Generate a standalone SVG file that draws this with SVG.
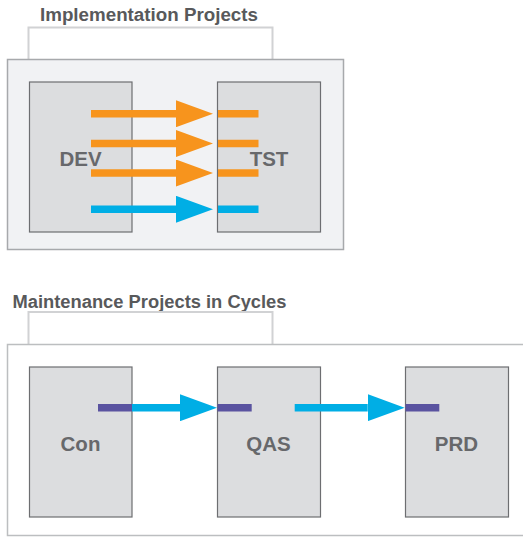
<svg xmlns="http://www.w3.org/2000/svg" width="523" height="537" viewBox="0 0 523 537">
  <style>
    .title { font-family: "Liberation Sans", Arial, sans-serif; font-weight: bold; font-size: 18.8px; fill: #58595b; }
    .label { font-family: "Liberation Sans", Arial, sans-serif; font-weight: bold; font-size: 20.5px; fill: #67686b; text-anchor: middle; }
    .bracket { fill: none; stroke: #d1d2d4; stroke-width: 2; }
    .system { fill: #dcdddf; stroke: #6d6e71; stroke-width: 1.2; }
    .shaft { stroke-width: 7.5; fill: none; }
    .orange { stroke: #f7941d; }
    .blue { stroke: #00aee5; }
    .purple { stroke: #5a53a0; }
  </style>
  <defs>
    <marker id="headOrange" markerUnits="userSpaceOnUse" markerWidth="37" markerHeight="27" refX="0" refY="13.5" orient="auto">
      <path d="M0,0 L37,13.5 L0,27 Z" fill="#f7941d"/>
    </marker>
    <marker id="headBlue" markerUnits="userSpaceOnUse" markerWidth="37" markerHeight="27" refX="0" refY="13.5" orient="auto">
      <path d="M0,0 L37,13.5 L0,27 Z" fill="#00aee5"/>
    </marker>
  </defs>

  <!-- Implementation projects frame -->
  <g id="implementation-frame">
    <text class="title" x="40" y="21" textLength="218" lengthAdjust="spacingAndGlyphs">Implementation Projects</text>
    <path class="bracket" d="M28.5,59 V27.5 H272.5 V59"/>
    <rect x="7.5" y="59.5" width="336" height="190" fill="#f1f2f4" stroke="#a7a9ac" stroke-width="1.5"/>
  </g>

  <g id="dev">
    <rect class="system" x="29.5" y="82" width="102.5" height="150"/>
    <text class="label" x="80.5" y="166">DEV</text>
  </g>

  <g id="tst">
    <rect class="system" x="217.5" y="82" width="103" height="150"/>
    <text class="label" x="269" y="166">TST</text>
  </g>

  <!-- Maintenance projects frame -->
  <g id="maintenance-frame">
    <text class="title" x="12.5" y="308" textLength="274" lengthAdjust="spacingAndGlyphs">Maintenance Projects in Cycles</text>
    <path class="bracket" d="M28.5,344 V312 H272.5 V344"/>
    <rect x="7.5" y="344.5" width="530" height="191" fill="#ffffff" stroke="#bcbec0" stroke-width="1.5"/>
  </g>

  <g id="con">
    <rect class="system" x="29.5" y="367" width="102.5" height="150"/>
    <text class="label" x="80.5" y="451">Con</text>
  </g>

  <g id="qas">
    <rect class="system" x="217.5" y="367" width="103" height="150"/>
    <text class="label" x="268.5" y="451">QAS</text>
  </g>

  <g id="prd">
    <rect class="system" x="405.5" y="367" width="103" height="150"/>
    <text class="label" x="456.5" y="451">PRD</text>
  </g>

  <!-- transports -->
  <g id="connectors">
    <line class="shaft orange" x1="91" y1="113.7" x2="176" y2="113.7" marker-end="url(#headOrange)"/>
    <line class="shaft orange" x1="91" y1="143.5" x2="176" y2="143.5" marker-end="url(#headOrange)"/>
    <line class="shaft orange" x1="91" y1="173" x2="176" y2="173" marker-end="url(#headOrange)"/>
    <line class="shaft blue" x1="91" y1="209.3" x2="176" y2="209.3" marker-end="url(#headBlue)"/>

    <line class="shaft orange" x1="218" y1="113.7" x2="258.5" y2="113.7"/>
    <line class="shaft orange" x1="218" y1="143.5" x2="258.5" y2="143.5"/>
    <line class="shaft orange" x1="218" y1="173" x2="258.5" y2="173"/>
    <line class="shaft blue" x1="218" y1="209.3" x2="258.5" y2="209.3"/>

    <line class="shaft purple" x1="98" y1="407.7" x2="132" y2="407.7"/>
    <line class="shaft blue" x1="132" y1="407.7" x2="180" y2="407.7" marker-end="url(#headBlue)"/>
    <line class="shaft purple" x1="217.5" y1="407.7" x2="251.7" y2="407.7"/>
    <line class="shaft blue" x1="294.7" y1="407.7" x2="367.7" y2="407.7" marker-end="url(#headBlue)"/>
    <line class="shaft purple" x1="405.5" y1="407.7" x2="439.3" y2="407.7"/>
  </g>
</svg>
